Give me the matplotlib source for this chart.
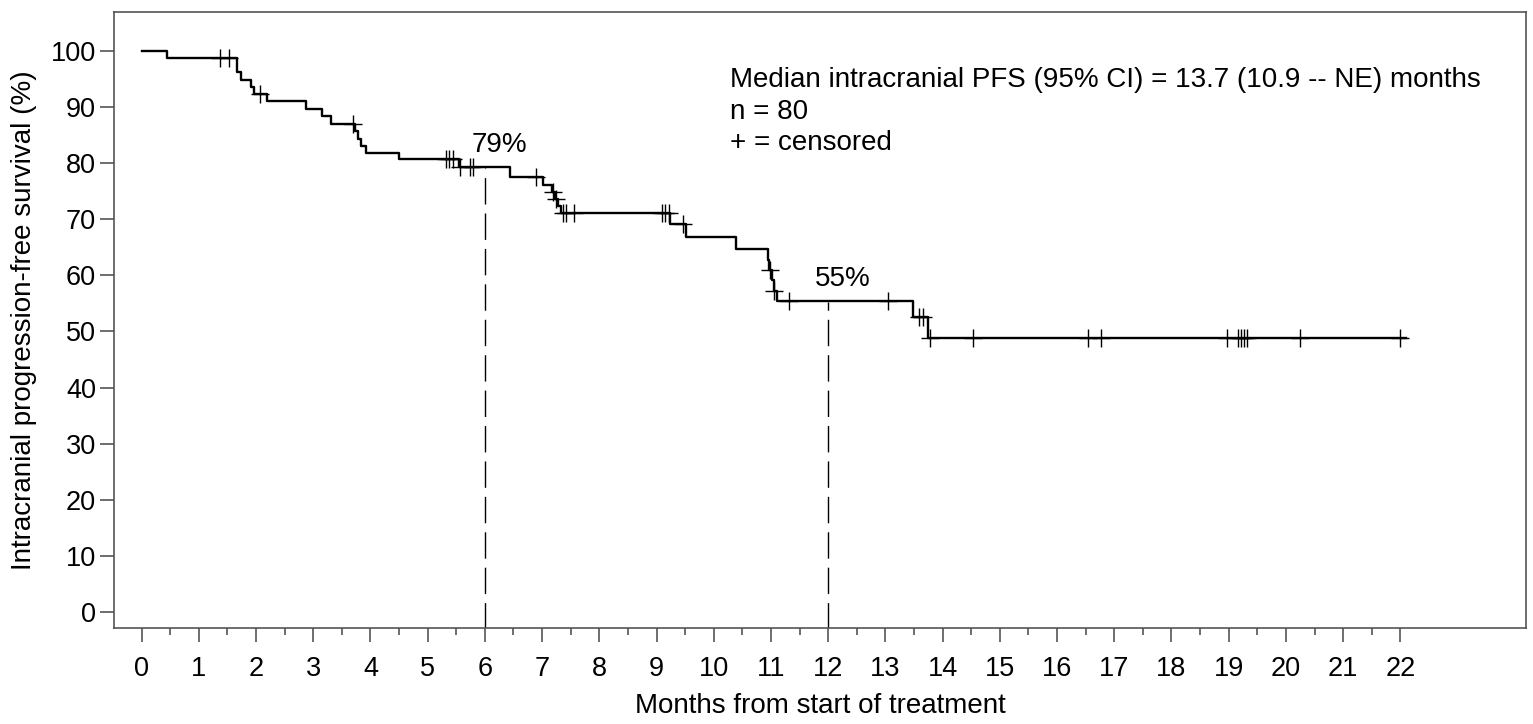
import numpy as np
import matplotlib
matplotlib.use('Agg')
import matplotlib.pyplot as plt
from matplotlib.ticker import FixedLocator

plt.rcParams['font.family'] = ['Liberation Sans', 'DejaVu Sans']

# Kaplan-Meier step curve (months, % surviving)
step_t = [0, 0.44, 1.66, 1.73, 1.91, 1.96, 2.20, 2.87, 3.16, 3.32, 3.73, 3.78,
          3.83, 3.92, 4.50, 5.54, 6.44, 7.02, 7.17, 7.22, 7.27, 7.33, 9.24,
          9.52, 10.39, 10.94, 10.97, 11.01, 11.05, 11.10, 13.48, 13.74]
step_s = [100, 98.8, 96.3, 94.9, 93.7, 92.3, 91.2, 89.7, 88.4, 87.0, 85.7, 84.4,
          83.1, 81.9, 80.7, 79.4, 77.6, 76.1, 74.8, 73.6, 72.4, 71.2, 69.1,
          66.9, 64.7, 62.8, 60.9, 59.1, 57.3, 55.5, 52.6, 48.9]
t_end = 22.1

censor_t = [1.37, 1.53, 2.07, 3.70, 5.32, 5.38, 5.44, 5.56, 5.74, 5.80, 6.89,
            7.19, 7.24, 7.36, 7.42, 7.55, 9.09, 9.15, 9.21, 9.47, 10.98, 11.05,
            11.32, 13.04, 13.59, 13.66, 13.78, 14.53, 16.54, 16.77, 18.97, 19.16,
            19.21, 19.26, 19.32, 20.25, 21.99]

landmarks = [6, 12]
landmark_labels = ['79%', '55%']

xt = np.array(step_t + [t_end])
ys = np.array(step_s + [step_s[-1]])


def surv_at(t):
    i = np.searchsorted(step_t, t, side='right') - 1
    return np.array(step_s)[i]


fig = plt.figure(figsize=(15.33, 7.24), dpi=100)
ax = fig.add_axes([0.0744, 0.1326, 0.9212, 0.8508])

ax.step(xt, ys, where='post', color='black', lw=1.7)
ax.plot(censor_t, surv_at(np.array(censor_t)), ls='none', marker='+',
        ms=13, mew=1.0, color='black')

for lm, lab in zip(landmarks, landmark_labels):
    s = surv_at(lm)
    ax.plot([lm, lm], [-3, s - 0.3], color='black', lw=1.0, dashes=(19, 6.5))
    ax.text(lm + 0.25, s + 1.6, lab, fontsize=20, ha='center', va='bottom')

ax.text(10.28, 97.2, 'Median intracranial PFS (95% CI) = 13.7 (10.9 -- NE) months\n'
        'n = 80\n+ = censored', fontsize=20, va='top', ha='left',
        linespacing=1.28)

ax.set_xlim(-0.48, 24.2)
ax.set_ylim(-2.9, 107)
ax.set_xticks(range(0, 23))
ax.xaxis.set_minor_locator(FixedLocator(np.arange(0.5, 22, 1.0)))
ax.set_yticks(range(0, 101, 10))
ax.tick_params(axis='both', which='major', direction='out', length=10,
               width=1.2, color='#555555', labelsize=19.5)
ax.tick_params(axis='x', which='major', pad=10)
ax.tick_params(axis='y', which='major', pad=3)
ax.tick_params(axis='x', which='minor', direction='out', length=5,
               width=1.2, color='#555555')
for sp in ax.spines.values():
    sp.set_color('#555555')
    sp.set_linewidth(1.2)

ax.set_xlabel('Months from start of treatment', fontsize=20, labelpad=8)
ax.set_ylabel('Intracranial progression-free survival (%)', fontsize=20,
              labelpad=10)

fig.savefig('out.png', dpi=100)
